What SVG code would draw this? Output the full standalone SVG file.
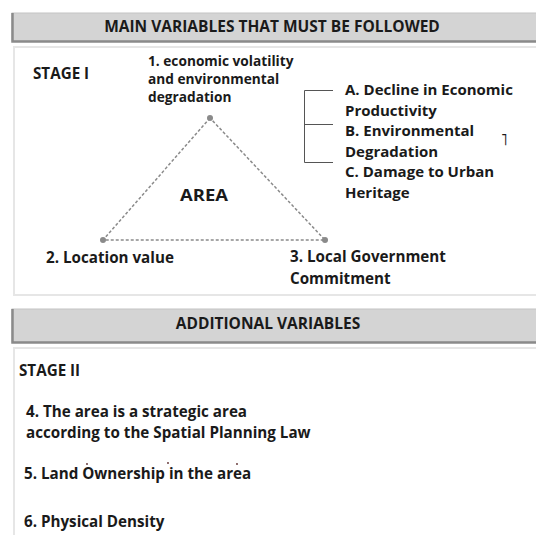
<svg xmlns="http://www.w3.org/2000/svg" width="536" height="535" viewBox="0 0 536 535">
<style>
.t{font-family:"Open Sans","Noto Sans","Liberation Sans",sans-serif;font-weight:bold;fill:#1a1a1a;font-size:15.2px}
.s{font-size:13.7px}
.l{font-size:15px}
.h{font-family:"Open Sans","Noto Sans","Liberation Sans",sans-serif;font-weight:bold;fill:#1a1a1a;font-size:15.5px}
.bar{fill:#d4d4d4;stroke:#c4c4c4;stroke-width:1}
.edge{stroke:#8a8a8a;stroke-width:2.5;fill:none}
.panel{fill:#ffffff;stroke:#e6e6e6;stroke-width:2}
.dot{stroke:#8a8a8a;stroke-width:1.5;stroke-dasharray:3 2;fill:none}
.vx{fill:#8a8a8a}
.br{stroke:#555;stroke-width:1;fill:none}
.sp{fill:#5a2a2a}
</style>
<rect width="536" height="535" fill="#ffffff"/>
<g id="header-main">
<rect class="bar" x="12" y="13" width="530" height="28"/>
<path class="edge" d="M12.5 13V41.5H540"/>
<text class="h" x="272" y="32" text-anchor="middle">MAIN VARIABLES THAT MUST BE FOLLOWED</text>
</g>
<g id="panel-stage1">
<rect class="panel" x="14" y="47" width="530" height="248"/>
<text class="t" x="33" y="79">STAGE I</text>
</g>
<g id="connectors">
<path class="dot" d="M210 118L103 240H325Z"/>
<path class="br" d="M333 90.5H304.5V162.5H333M304.5 124.5H333"/>
</g>
<g id="node-1">
<circle class="vx" cx="210" cy="118" r="3"/>
<text class="t s" x="148" y="66">1. economic volatility</text>
<text class="t s" x="148" y="84">and environmental</text>
<text class="t s" x="148" y="102">degradation</text>
</g>
<g id="node-area">
<text class="h" x="204" y="201" text-anchor="middle" font-size="17.5" textLength="48" lengthAdjust="spacingAndGlyphs">AREA</text>
</g>
<g id="node-2">
<circle class="vx" cx="103" cy="240" r="3"/>
<text class="t" x="46" y="263">2. Location value</text>
</g>
<g id="node-3">
<circle class="vx" cx="325" cy="240" r="3"/>
<text class="t" x="290" y="262">3. Local Government</text>
<text class="t" x="290" y="284">Commitment</text>
</g>
<g id="node-A">
<text class="t l" x="345" y="95">A. Decline in Economic</text>
<text class="t l" x="345" y="115.5">Productivity</text>
</g>
<g id="node-B">
<text class="t l" x="345" y="136">B. Environmental</text>
<text class="t l" x="345" y="156.5">Degradation</text>
<text class="t" x="501" y="145" font-size="14">˥</text>
</g>
<g id="node-C">
<text class="t l" x="345" y="177">C. Damage to Urban</text>
<text class="t l" x="345" y="197.5">Heritage</text>
</g>
<g id="header-additional">
<rect class="bar" x="12" y="309" width="530" height="33"/>
<path class="edge" d="M12.5 309V342.5H540"/>
<text class="h" x="268" y="329" text-anchor="middle">ADDITIONAL VARIABLES</text>
</g>
<g id="panel-stage2">
<rect class="panel" x="14" y="348" width="530" height="200"/>
<text class="t" x="19" y="376">STAGE II</text>
<text class="t" x="26" y="417">4. The area is a strategic area</text>
<text class="t" x="26" y="438">according to the Spatial Planning Law</text>
<circle class="sp" cx="87" cy="464" r="0.9"/>
<circle class="sp" cx="168" cy="463" r="0.9"/>
<circle class="sp" cx="237" cy="464" r="0.9"/>
<text class="t" x="24" y="479">5. Land Ownership in the area</text>
<text class="t" x="24" y="527">6. Physical Density</text>
</g>
</svg>
